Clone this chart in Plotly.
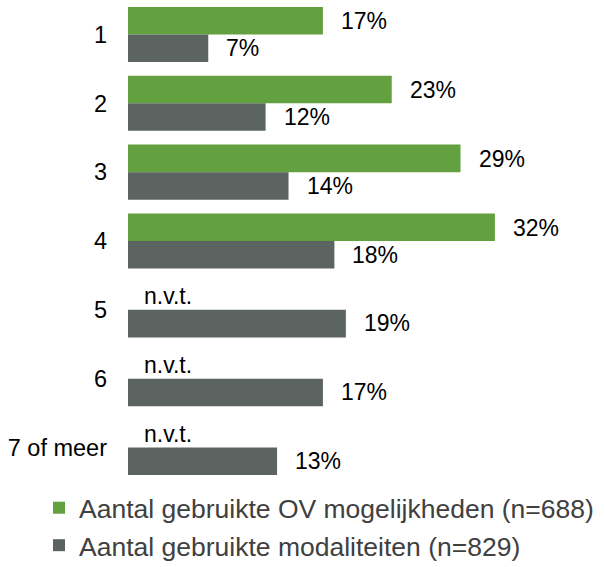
import plotly.graph_objects as go

categories = ["1", "2", "3", "4", "5", "6", "7 of meer"]
ov_values = [17, 23, 29, 32, None, None, None]
mod_values = [7, 12, 14, 18, 19, 17, 13]
ov_name = "Aantal gebruikte OV mogelijkheden (n=688)"
mod_name = "Aantal gebruikte modaliteiten (n=829)"
na_label = "n.v.t."

GREEN = "#63A03F"
GRAY = "#5C6461"
FONT = "Liberation Sans, Arial, sans-serif"
LBL = 23

fig = go.Figure()
fig.add_trace(go.Bar(y=categories, x=ov_values, orientation="h", name=ov_name,
                     marker=dict(color=GREEN, line=dict(width=0)), legendgroup="a"))
fig.add_trace(go.Bar(y=categories, x=mod_values, orientation="h", name=mod_name,
                     marker=dict(color=GRAY, line=dict(width=0)), legendgroup="b"))

ann = []
for i, v in enumerate(ov_values):
    ann.append(dict(x=v if v is not None else 0, y=i, xref="x", yref="y",
                    text=f"{v}%" if v is not None else na_label,
                    xanchor="left", yanchor="middle", showarrow=False,
                    xshift=16 if v is not None else 14, yshift=13.5,
                    font=dict(size=LBL, color="black", family=FONT)))
for i, v in enumerate(mod_values):
    ann.append(dict(x=v, y=i, xref="x", yref="y", text=f"{v}%",
                    xanchor="left", yanchor="middle", showarrow=False,
                    xshift=16, yshift=-13.5,
                    font=dict(size=LBL, color="black", family=FONT)))

fig.update_layout(
    width=605, height=567,
    margin=dict(l=128, r=0, t=0, b=85, autoexpand=False),
    paper_bgcolor="white", plot_bgcolor="white",
    barmode="group", bargap=0.2, bargroupgap=0,
    font=dict(family=FONT, size=LBL, color="black"),
    annotations=ann,
    showlegend=True,
    legend=dict(xref="container", yref="container", x=39/605, y=1 - 484/567,
                xanchor="left", yanchor="top", orientation="v",
                font=dict(size=26.5, color="#404040", family=FONT),
                tracegroupgap=28, itemwidth=30, traceorder="normal"),
    xaxis=dict(range=[0, 41.6], visible=False, showgrid=False, zeroline=False,
               automargin=False),
    yaxis=dict(type="category", range=[6.5, -0.5], showgrid=False, zeroline=False,
               showline=False, automargin=False,
               ticks="", ticklabelstandoff=20,
               tickfont=dict(size=23.5, color="black", family=FONT)),
)

fig.write_html("out.html", config={"displayModeBar": False},
               post_script="document.body.style.margin='0px';")
